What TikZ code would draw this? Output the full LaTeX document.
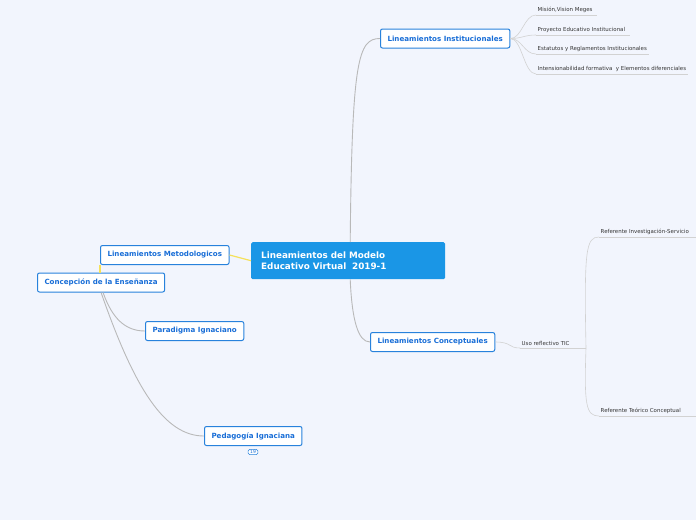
\documentclass[tikz,border=0pt]{standalone}
\usepackage{fontspec}
\setmainfont{DejaVu Sans}
\begin{document}
\begin{tikzpicture}[x=1pt,y=-1pt,
  topic/.style={draw=blueB, fill=white, rounded corners=2pt, line width=1pt, text=blueT,
     font=\fontsize{7.1}{8}\selectfont\bfseries, minimum height=19pt, inner xsep=7pt, anchor=west},
  central/.style={fill=blueC, text=white, rounded corners=1.5pt, align=left,
     font=\fontsize{8.8}{10.5}\selectfont\bfseries, minimum height=37pt, minimum width=194pt,
     text width=174pt, inner xsep=10pt, anchor=north west},
  leaf/.style={font=\fontsize{5.45}{6}\selectfont, text=black!80, inner xsep=1.5pt, inner ysep=2.5pt, anchor=south west},
  link/.style={draw=gray!55, line width=0.9pt},
  ylink/.style={draw=yellowL, line width=1.2pt},
  uline/.style={draw=gray!35, line width=0.6pt}]
\definecolor{bg}{RGB}{242,245,253}
\definecolor{blueB}{RGB}{40,130,220}
\definecolor{blueT}{RGB}{25,110,215}
\definecolor{blueC}{RGB}{26,150,230}
\definecolor{yellowL}{RGB}{245,225,90}
\fill[bg] (0,0) rectangle (696,520);
\useasboundingbox (0,0) rectangle (696,520);

% central
\node[central] (c) at (251,242) {Lineamientos del Modelo\\Educativo Virtual\ \ 2019-1};

% topics
\node[topic] (inst) at (380,38.5) {Lineamientos Institucionales};
\node[topic] (conc) at (370,342) {Lineamientos Conceptuales};
\node[topic] (met) at (100,255) {Lineamientos Metodologicos};
\node[topic] (cen) at (37,282.5) {Concepción de la Enseñanza};
\node[topic] (par) at (145,331) {Paradigma Ignaciano};
\node[topic] (ped) at (204,436) {Pedagogía Ignaciana};
\node[draw=blueB, fill=white, rounded corners=1.5pt, line width=0.5pt, text=blueT,
  font=\fontsize{4.5}{5}\selectfont, inner xsep=2pt, inner ysep=1pt] (badge) at (253,452) {19};

% leaves
\node[leaf] (l1) at (536,15) {Misión,Vision Meges\kern3pt\relax};
\node[leaf] (l2) at (536,35) {Proyecto Educativo Institucional\kern3pt\relax};
\node[leaf] (l3) at (536,54) {Estatutos y Reglamentos Institucionales};
\node[leaf] (l4) at (536,74) {Intensionabilidad formativa\ \ y Elementos diferenciales};
\node[leaf] (uso) at (520,348) {Uso reflectivo TIC};
\node[leaf] (ri) at (599,237) {Referente Investigación-Servicio\kern8pt\relax};
\node[leaf] (rt) at (599,416) {Referente Teórico Conceptual\kern16pt\relax};

\foreach \n in {l1,l2,l3,l4,uso,ri,rt}{\draw[uline] (\n.south west) -- (\n.south east);}

% connectors
\draw[link] (c.north) ++(2,0) coordinate (cn) (cn) .. controls (352,60) and (358,38.5) .. (inst.west);
\draw[link] (c.south) ++(2,0) coordinate (cs) (cs) .. controls (352,320) and (358,342) .. (conc.west);
\draw[ylink] (c.west) -- (met.east);
\draw[ylink] (met.south west) ++(0,0) coordinate (ms) (ms) -- (ms |- cen.north);
\draw[link] (cen.south) ++(2,0) coordinate (ce) (ce) .. controls (112,318) and (125,331) .. (par.west);
\draw[link] (cen.south) ++(0,0) coordinate (ce2) (ce2) .. controls (135,390) and (165,436) .. (ped.west);

\foreach \n in {l1,l2,l3,l4}{\draw[uline] (inst.east) .. controls (522,38.5) and ([xshift=-12pt]\n.south west) .. (\n.south west);}
\draw[uline] (conc.east) .. controls (512,342) and (508,348) .. (uso.south west);
\coordinate (br) at (586,348);
\draw[uline] (uso.south east) -- (br);
\draw[uline] (br) .. controls (584,250) and (586,237) .. (ri.south west);
\draw[uline] (br) .. controls (584,405) and (586,416) .. (rt.south west);
\end{tikzpicture}
\end{document}
